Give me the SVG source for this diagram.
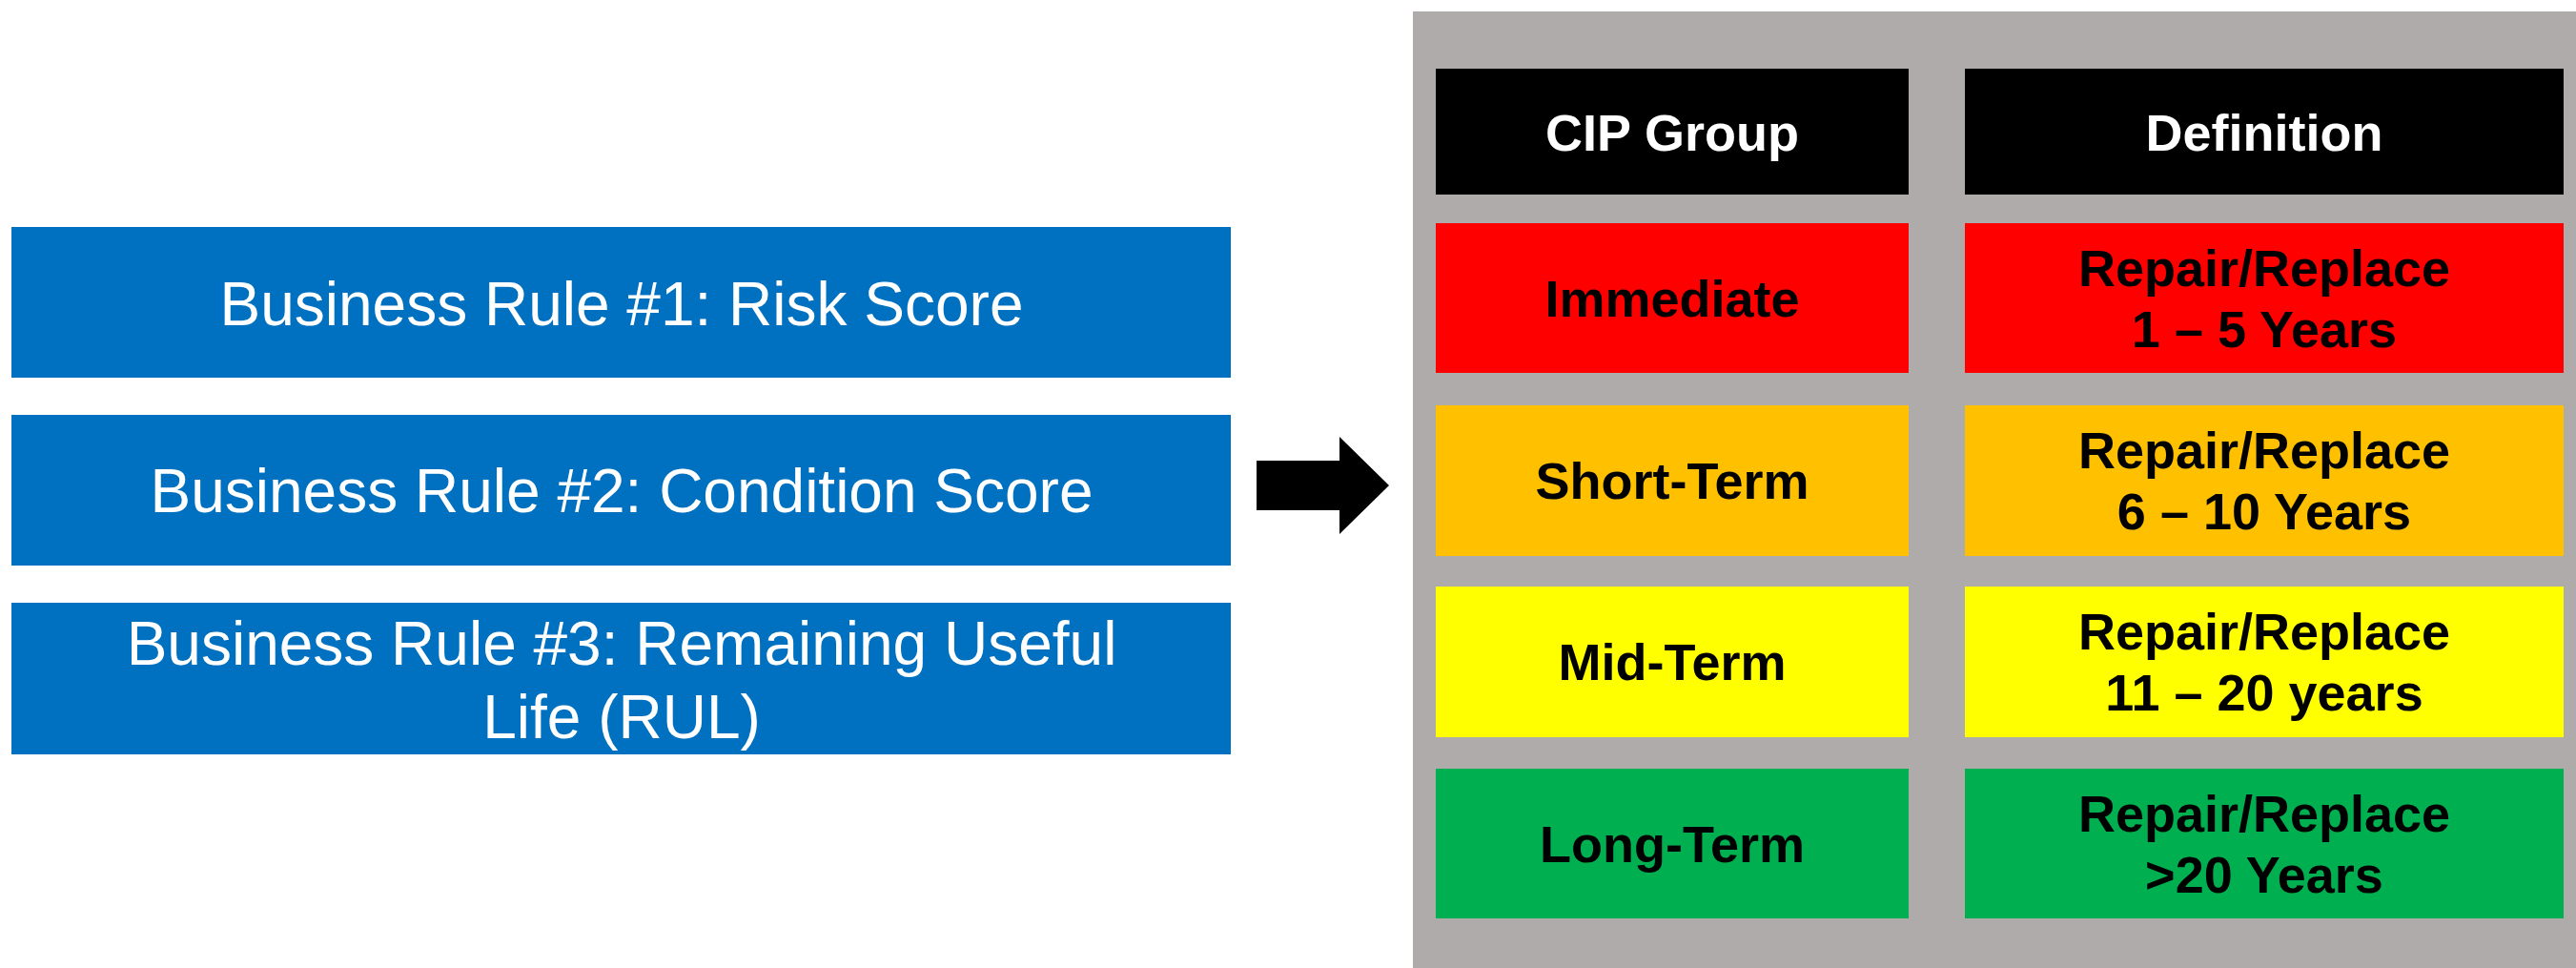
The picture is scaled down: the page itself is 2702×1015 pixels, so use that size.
<svg xmlns="http://www.w3.org/2000/svg" width="2702" height="1015" viewBox="0 0 2702 1015">
  <style>
    .rule { fill: #0070C0; }
    .rt { font-family: "Liberation Sans", Arial, sans-serif; font-size: 64px; fill: #FFFFFF; text-anchor: middle; }
    .hd { fill: #000000; }
    .ht { font-family: "Liberation Sans", Arial, sans-serif; font-size: 54px; font-weight: bold; fill: #FFFFFF; text-anchor: middle; }
    .ct { font-family: "Liberation Sans", Arial, sans-serif; font-size: 54px; font-weight: bold; fill: #000000; text-anchor: middle; }
    .red { fill: #FF0000; }
    .orange { fill: #FFC000; }
    .yellow { fill: #FFFF00; }
    .green { fill: #00B050; }
  </style>
  <rect x="0" y="0" width="2702" height="1015" fill="#FFFFFF"/>

  <g id="rule1">
    <rect class="rule" x="12" y="238" width="1279" height="158"/>
    <text class="rt" x="652" y="341">Business Rule #1: Risk Score</text>
  </g>
  <g id="rule2">
    <rect class="rule" x="12" y="435" width="1279" height="158"/>
    <text class="rt" x="652" y="537">Business Rule #2: Condition Score</text>
  </g>
  <g id="rule3">
    <rect class="rule" x="12" y="632" width="1279" height="159"/>
    <text class="rt" x="652" y="697">Business Rule #3: Remaining Useful</text>
    <text class="rt" x="652" y="774">Life (RUL)</text>
  </g>

  <g id="connectors">
    <path d="M1318,483 L1405,483 L1405,458 L1457,509 L1405,560 L1405,535 L1318,535 Z" fill="#000000"/>
  </g>

  <g id="cip-table">
    <rect x="1482" y="12" width="1220" height="1003" fill="#AFABAB"/>
  </g>

  <g id="header-cip">
    <rect class="hd" x="1506" y="72" width="496" height="132"/>
    <text class="ht" x="1754" y="158">CIP Group</text>
  </g>
  <g id="header-def">
    <rect class="hd" x="2061" y="72" width="628" height="132"/>
    <text class="ht" x="2375" y="158">Definition</text>
  </g>

  <g id="immediate">
    <rect class="red" x="1506" y="234" width="496" height="157"/>
    <text class="ct" x="1754" y="332">Immediate</text>
  </g>
  <g id="immediate-def">
    <rect class="red" x="2061" y="234" width="628" height="157"/>
    <text class="ct" x="2375" y="300">Repair/Replace</text>
    <text class="ct" x="2375" y="364">1 – 5 Years</text>
  </g>

  <g id="short-term">
    <rect class="orange" x="1506" y="425" width="496" height="158"/>
    <text class="ct" x="1754" y="523">Short-Term</text>
  </g>
  <g id="short-term-def">
    <rect class="orange" x="2061" y="425" width="628" height="158"/>
    <text class="ct" x="2375" y="491">Repair/Replace</text>
    <text class="ct" x="2375" y="555">6 – 10 Years</text>
  </g>

  <g id="mid-term">
    <rect class="yellow" x="1506" y="615" width="496" height="158"/>
    <text class="ct" x="1754" y="713">Mid-Term</text>
  </g>
  <g id="mid-term-def">
    <rect class="yellow" x="2061" y="615" width="628" height="158"/>
    <text class="ct" x="2375" y="681">Repair/Replace</text>
    <text class="ct" x="2375" y="745">11 – 20 years</text>
  </g>

  <g id="long-term">
    <rect class="green" x="1506" y="806" width="496" height="157"/>
    <text class="ct" x="1754" y="904">Long-Term</text>
  </g>
  <g id="long-term-def">
    <rect class="green" x="2061" y="806" width="628" height="157"/>
    <text class="ct" x="2375" y="872">Repair/Replace</text>
    <text class="ct" x="2375" y="936">&gt;20 Years</text>
  </g>
</svg>
